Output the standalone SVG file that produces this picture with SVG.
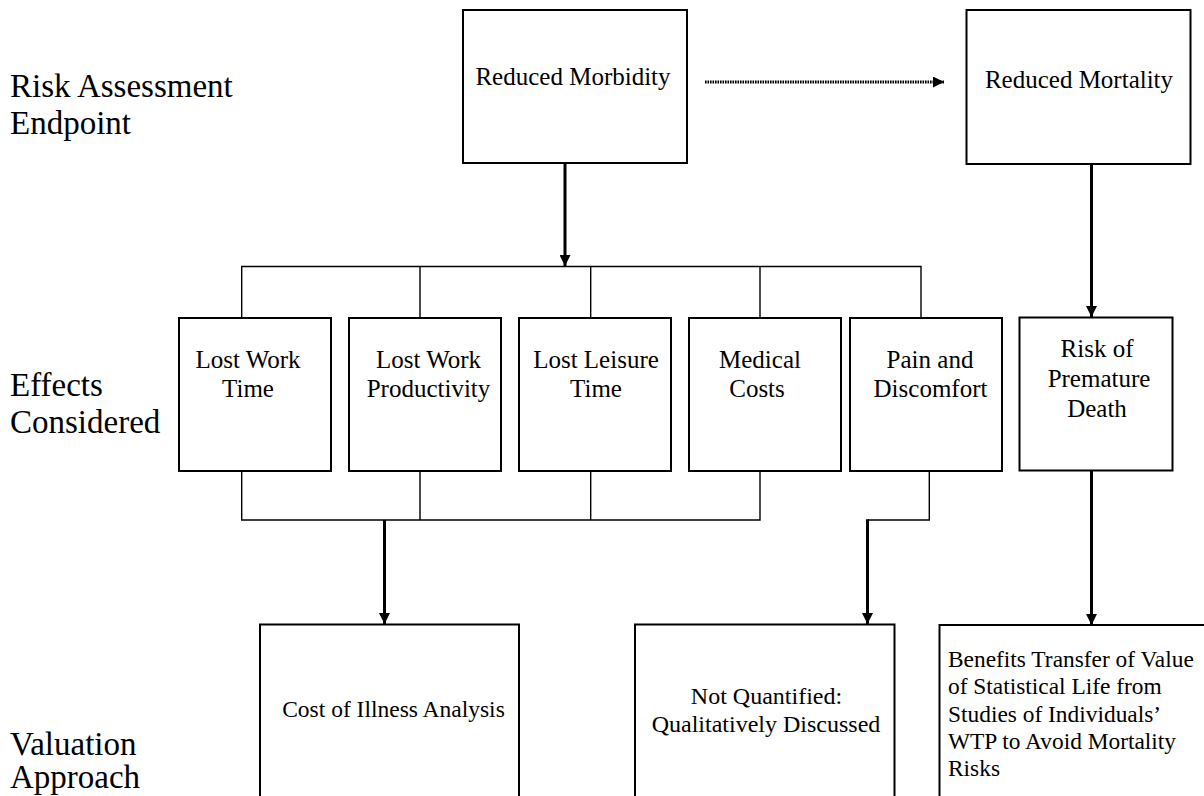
<svg xmlns="http://www.w3.org/2000/svg" width="1204" height="796" viewBox="0 0 1204 796" font-family="'Liberation Serif', 'Times New Roman', 'DejaVu Serif', serif">
  <defs>
    <marker id="head" viewBox="0 0 10 10" refX="10" refY="5" markerWidth="11" markerHeight="11" markerUnits="userSpaceOnUse" orient="auto">
      <path d="M0,0 L10,5 L0,10 Z" fill="#000"/>
    </marker>
    <marker id="head-small" viewBox="0 0 10 10" refX="10" refY="5" markerWidth="11" markerHeight="11" markerUnits="userSpaceOnUse" orient="auto">
      <path d="M0,0 L10,5 L0,10 Z" fill="#000"/>
    </marker>
  </defs>
  <style>
    text { font-family: 'Liberation Serif', 'Times New Roman', 'DejaVu Serif', serif; fill: #000; }
    .row-label { font-size: 33px; }
    .box { fill: #fff; stroke: #000; stroke-width: 2; }
    .label { font-size: 25px; text-anchor: middle; }
    .label-sm { font-size: 24px; text-anchor: middle; }
    .branch { fill: none; stroke: #000; stroke-width: 1.4; }
    .arrow { fill: none; stroke: #000; stroke-width: 3; marker-end: url(#head); }
    .dotted { fill: none; stroke: #000; stroke-width: 3; stroke-dasharray: 1.6 0.9; marker-end: url(#head-small); }
  </style>

  <rect width="1204" height="796" fill="#fff"/>

  <!-- row headings -->
  <g id="row-labels">
    <text class="row-label" x="10" y="97">Risk Assessment</text>
    <text class="row-label" x="10" y="134">Endpoint</text>
    <text class="row-label" x="10" y="396">Effects</text>
    <text class="row-label" x="10" y="433">Considered</text>
    <text class="row-label" x="10" y="755">Valuation</text>
    <text class="row-label" x="10" y="788">Approach</text>
  </g>

  <!-- connectors -->
  <g id="connectors">
    <line class="dotted" x1="705" y1="82" x2="944" y2="82"/>
    <line class="arrow" x1="565" y1="164" x2="565" y2="266"/>
    <path class="branch" d="M241.7,318 V266.5 H921 V318 M420,266.5 V318 M590.7,266.5 V318 M760,266.5 V318"/>
    <line class="arrow" x1="1091.5" y1="164" x2="1091.5" y2="317"/>
    <path class="branch" d="M241.7,471 V520 H760 V471 M420,471 V520 M590.7,471 V520"/>
    <line class="arrow" x1="384.5" y1="520" x2="384.5" y2="624"/>
    <path class="branch" d="M929.3,471 V520 H867.5"/>
    <line class="arrow" x1="867.5" y1="519.3" x2="867.5" y2="624"/>
    <line class="arrow" x1="1091.5" y1="471" x2="1091.5" y2="625"/>
  </g>

  <!-- endpoint row -->
  <g id="reduced-morbidity">
    <rect class="box" x="463" y="10" width="224" height="153"/>
    <text class="label" x="573" y="85">Reduced Morbidity</text>
  </g>
  <g id="reduced-mortality">
    <rect class="box" x="966.5" y="10" width="224" height="154"/>
    <text class="label" x="1079" y="88">Reduced Mortality</text>
  </g>

  <!-- effects row -->
  <g id="lost-work-time">
    <rect class="box" x="179" y="318" width="152" height="153"/>
    <text class="label" x="248" y="368">Lost Work</text>
    <text class="label" x="248" y="397">Time</text>
  </g>
  <g id="lost-work-productivity">
    <rect class="box" x="349" y="318" width="152" height="153"/>
    <text class="label" x="428.5" y="368">Lost Work</text>
    <text class="label" x="428.5" y="397">Productivity</text>
  </g>
  <g id="lost-leisure-time">
    <rect class="box" x="519" y="318" width="152" height="153"/>
    <text class="label" x="596" y="368">Lost Leisure</text>
    <text class="label" x="596" y="397">Time</text>
  </g>
  <g id="medical-costs">
    <rect class="box" x="689" y="318" width="152" height="153"/>
    <text class="label" x="760" y="368">Medical</text>
    <text class="label" x="757" y="397">Costs</text>
  </g>
  <g id="pain-and-discomfort">
    <rect class="box" x="850" y="318" width="152" height="153"/>
    <text class="label" x="930" y="368">Pain and</text>
    <text class="label" x="930.5" y="397">Discomfort</text>
  </g>
  <g id="risk-of-premature-death">
    <rect class="box" x="1019.5" y="317.5" width="153" height="153"/>
    <text class="label" x="1097" y="357">Risk of</text>
    <text class="label" x="1099" y="387">Premature</text>
    <text class="label" x="1097" y="417">Death</text>
  </g>

  <!-- valuation row -->
  <g id="cost-of-illness">
    <rect class="box" x="260" y="624.5" width="259" height="200"/>
    <text class="label-sm" x="393.5" y="716.5" style="font-size:23.5px">Cost of Illness Analysis</text>
  </g>
  <g id="not-quantified">
    <rect class="box" x="635" y="624.5" width="259.5" height="200"/>
    <text class="label-sm" x="766.5" y="703.5">Not Quantified:</text>
    <text class="label-sm" x="766" y="731.5">Qualitatively Discussed</text>
  </g>
  <g id="benefits-transfer">
    <rect class="box" x="939.5" y="625" width="300" height="200"/>
    <g style="font-size:23.4px">
      <text x="948" y="666.5">Benefits Transfer of Value</text>
      <text x="948" y="694">of Statistical Life from</text>
      <text x="948" y="721.5">Studies of Individuals’</text>
      <text x="948" y="748.5">WTP to Avoid Mortality</text>
      <text x="948" y="776">Risks</text>
    </g>
  </g>
</svg>
